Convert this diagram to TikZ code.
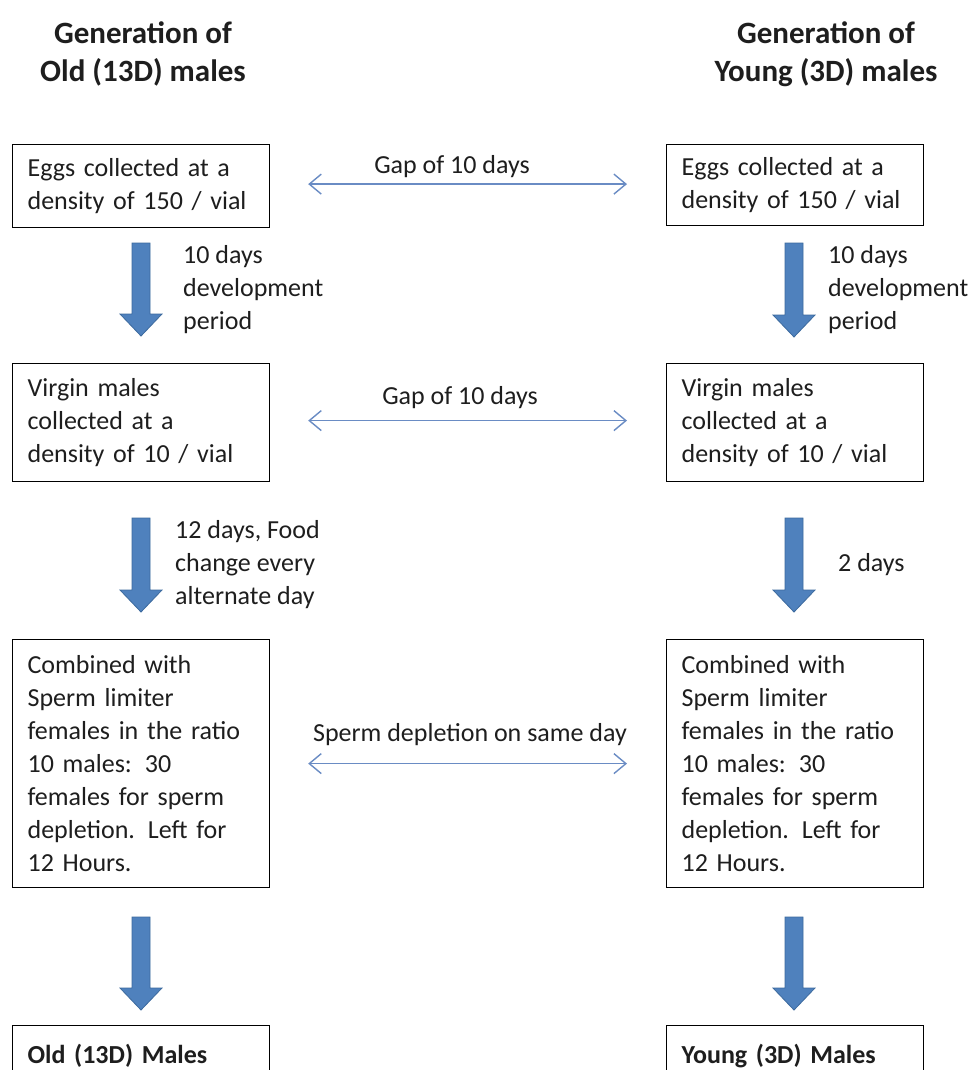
\documentclass[tikz,border=0pt]{standalone}
\usepackage{fontspec}
\setmainfont{Carlito}
\usetikzlibrary{arrows.meta,calc}
\definecolor{blockblue}{HTML}{4F81BD}
\definecolor{blockedge}{HTML}{3C6A9E}
\definecolor{thinblue}{HTML}{6A8CC4}
\definecolor{txt}{HTML}{1E1E1E}
\newcommand\blockarr[2]{%
  \filldraw[blockstyle] ($(#1)+(-9,0)$) -- ($(#2)+(-9,-22)$) -- ($(#2)+(-21,-22)$) -- (#2)
    -- ($(#2)+(21,-22)$) -- ($(#2)+(9,-22)$) -- ($(#1)+(9,0)$) -- cycle;}
\begin{document}
\begin{tikzpicture}[x=1pt,y=-1pt,
  box/.style={draw=black, line width=1.2pt, anchor=north west, inner xsep=15pt, inner ysep=0pt,
    align=left, text width=227pt, text=txt, font=\fontsize{26pt}{33pt}\selectfont},
  endbox/.style={box, font=\bfseries\fontsize{26pt}{33pt}\selectfont},
  header/.style={align=center, text=txt, font=\bfseries\fontsize{31pt}{38pt}\selectfont},
  lbl/.style={anchor=west, align=left, inner sep=0pt, text=txt, font=\fontsize{26pt}{33pt}\selectfont},
  gaplbl/.style={inner sep=0pt, text=txt, font=\fontsize{26pt}{33pt}\selectfont},
  gaparrow/.style={draw=thinblue, line width=1.4pt,
    {Straight Barb[length=12pt,width=20pt,line width=1.4pt]}-{Straight Barb[length=12pt,width=20pt,line width=1.4pt]},
    shorten <=38pt, shorten >=39pt},
  blockstyle/.style={fill=blockblue, draw=blockedge, line width=0.8pt, line join=miter}
]
\clip (0,0) rectangle (971,1070);
\fill[white] (0,0) rectangle (971,1070);

% headers
\node[header] (hL) at (143,54) {Generation of\\Old (13D) males};
\node[header] (hR) at (826,54) {Generation of\\Young (3D) males};

% left column
\node[box, minimum height=83pt] (L1) at (12,144) {Eggs collected at a\\density of 150 / vial};
\node[box, minimum height=118pt] (L2) at (12,363) {Virgin males\\collected at a\\density of 10 / vial};
\node[box, minimum height=248pt] (L3) at (12,639) {Combined with\\Sperm limiter\\females in the ratio\\10 males: 30\\females for sperm\\depletion. Left for\\12 Hours.};
\node[endbox, minimum height=60pt] (L4) at (12,1025) {Old (13D) Males};

% right column
\node[box, minimum height=81pt] (R1) at (666,144) {Eggs collected at a\\density of 150 / vial};
\node[box, minimum height=118pt] (R2) at (666,363) {Virgin males\\collected at a\\density of 10 / vial};
\node[box, minimum height=248pt] (R3) at (666,639) {Combined with\\Sperm limiter\\females in the ratio\\10 males: 30\\females for sperm\\depletion. Left for\\12 Hours.};
\node[endbox, minimum height=60pt] (R4) at (666,1025) {Young (3D) Males};

% block arrow end points
\coordinate (la1s) at (141,243); \coordinate (la1e) at (141,336);
\coordinate (la2s) at (141,518); \coordinate (la2e) at (141,612);
\coordinate (la3s) at (141,917); \coordinate (la3e) at (141,1010);
\coordinate (ra1s) at (794,243); \coordinate (ra1e) at (794,337);
\coordinate (ra2s) at (794,518); \coordinate (ra2e) at (794,612);
\coordinate (ra3s) at (794,917); \coordinate (ra3e) at (794,1010);

\blockarr{la1s}{la1e}
\blockarr{la2s}{la2e}
\blockarr{la3s}{la3e}
\blockarr{ra1s}{ra1e}
\blockarr{ra2s}{ra2e}
\blockarr{ra3s}{ra3e}

% arrow labels
\node[lbl] (t1) at (183,290) {10 days\\development\\period};
\node[lbl] (t2) at (175,565) {12 days, Food\\change every\\alternate day};
\node[lbl] (t3) at (828,290) {10 days\\development\\period};
\node[lbl] (t4) at (838,565) {2 days};

% gap arrows
\draw[gaparrow] ($(L1.east)+(0,-2)$) -- ($(R1.west)+(0,-1)$);
\draw[gaparrow] ($(L2.east)+(0,-2)$) -- ($(R2.west)+(0,-2)$);
\draw[gaparrow] (L3.east) -- (R3.west);
\node[gaplbl] (g1) at (452,167) {Gap of 10 days};
\node[gaplbl] (g2) at (460,398) {Gap of 10 days};
\node[gaplbl] (g3) at (470,735) {Sperm depletion on same day};
\end{tikzpicture}
\end{document}
